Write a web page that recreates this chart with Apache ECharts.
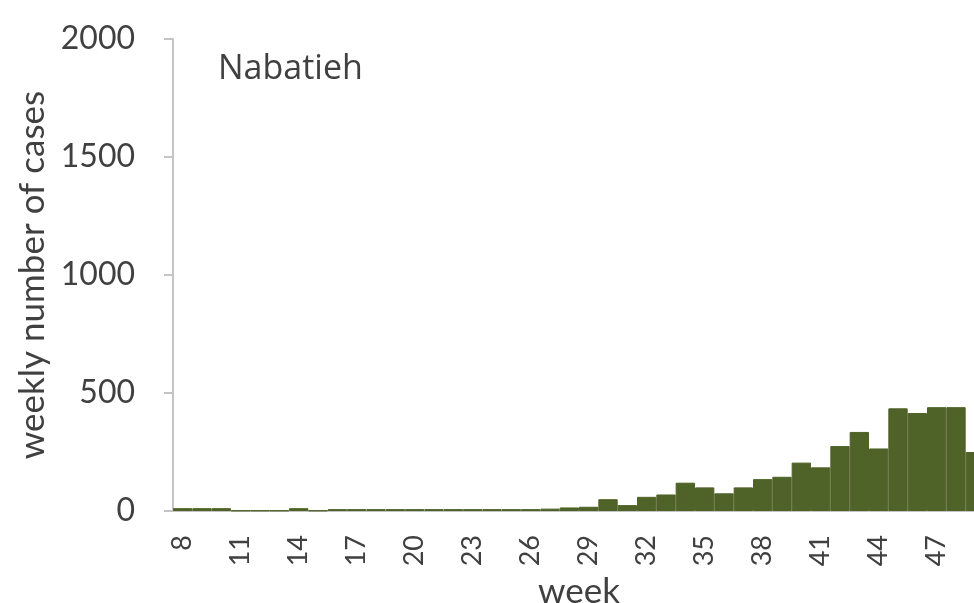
<!DOCTYPE html>
<html>
<head>
<meta charset="utf-8">
<script src="https://cdn.jsdelivr.net/npm/echarts@6/dist/echarts.min.js"></script>
<style>
  html, body { margin: 0; padding: 0; background: #fff; }
  #main { width: 974px; height: 603px; }
</style>
</head>
<body>
<div id="main"></div>
<script>
// weeks shown on the x axis (the last one is cut off at the right edge)
const weeks = ['8', '9', '10', '11', '12', '13', '14', '15', '16', '17', '18', '19', '20', '21',
	'22', '23', '24', '25', '26', '27', '28', '29', '30', '31', '32', '33', '34', '35',
	'36', '37', '38', '39', '40', '41', '42', '43', '44', '45', '46', '47', '48', '49'];

// weekly number of cases, Nabatieh
const cases = [12, 12, 12, 2, 2, 2, 12, 2, 8, 8, 8, 8, 8, 8,
	8, 8, 8, 8, 8, 10, 15, 18, 50, 25, 60, 70, 120, 100,
	75, 100, 135, 145, 205, 185, 275, 335, 265, 435, 415, 440, 440, 250];

const yTicks = [0, 500, 1000, 1500, 2000];

const textColor = '#404040';
const axisColor = '#c4c4c4';
const barColor = '#4f6228';
const font = 'Lato';

const chart = echarts.init(document.getElementById('main'));

const option = {
	animation: false,
	title: {
		text: 'Nabatieh',
		left: 213,
		top: 47,
		textStyle: { fontFamily: 'Open Sans', fontSize: 34, fontWeight: 'normal', color: textColor }
	},
	grid: {
		left: 173,
		top: 39,
		bottom: 92,
		width: 812,
		outerBoundsMode: 'none',
		containLabel: false
	},
	xAxis: {
		type: 'category',
		data: weeks,
		name: 'week',
		nameLocation: 'middle',
		nameGap: 62,
		nameTextStyle: { fontFamily: font, fontSize: 35, color: textColor, verticalAlign: 'top' },
		axisLine: { lineStyle: { color: axisColor, width: 2 } },
		axisTick: { interval: 0, length: 9, lineStyle: { color: axisColor, width: 2 } },
		axisLabel: {
			interval: 2,
			rotate: 90,
			margin: 24,
			fontFamily: font,
			fontSize: 27,
			color: textColor
		}
	},
	yAxis: {
		type: 'value',
		min: yTicks[0],
		max: yTicks[yTicks.length - 1],
		interval: 500,
		name: 'weekly number of cases',
		nameLocation: 'middle',
		nameGap: 109,
		nameTextStyle: { fontFamily: font, fontSize: 35, color: textColor },
		axisLine: { show: true, lineStyle: { color: axisColor, width: 2 } },
		axisTick: { show: true, length: 9, lineStyle: { color: axisColor, width: 2 } },
		splitLine: { show: false },
		axisLabel: {
			margin: 38,
			fontFamily: font,
			fontSize: 32,
			color: textColor,
			formatter: v => String(v)
		}
	},
	series: [
		{
			type: 'bar',
			data: cases,
			barCategoryGap: '0%',
			itemStyle: { color: barColor, borderColor: barColor, borderWidth: 1 }
		}
	]
};

chart.setOption(option);
</script>
</body>
</html>
